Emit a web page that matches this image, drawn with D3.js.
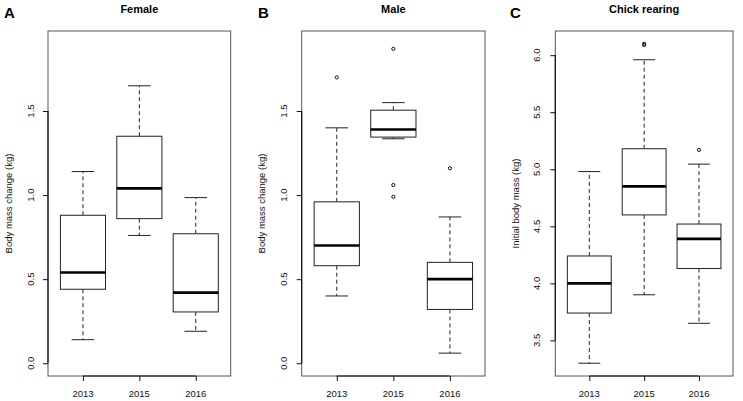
<!DOCTYPE html>
<html lang="en">
<head>
<meta charset="UTF-8">
<title>Body mass boxplots</title>
<script src="https://d3js.org/d3.v7.min.js"></script>
<style>
    body { margin: 0; padding: 0; background: #fff; }
    svg { font-family: "Liberation Sans", Arial, Helvetica, sans-serif; display: block; }
    .tick-label { font-size: 9.5px; fill: #111; }
    .axis-title { font-size: 9.5px; fill: #111; }
    .panel-title { font-size: 11px; font-weight: bold; text-anchor: middle; }
    .panel-letter { font-size: 15px; font-weight: bold; }
</style>
</head>
<body>
<div id="chart"></div>
<script>
    // categories
    var years = ["2013", "2015", "2016"];

    // five-number summaries per year: [low whisker, Q1, median, Q3, high whisker]
    var femaleStats = [
        [0.14, 0.44, 0.54, 0.88, 1.14],
        [0.76, 0.86, 1.04, 1.35, 1.65],
        [0.19, 0.305, 0.42, 0.77, 0.985]
    ];
    var femaleOutliers = [[], [], []];

    var maleStats = [
        [0.40, 0.58, 0.70, 0.96, 1.40],
        [1.335, 1.345, 1.39, 1.505, 1.55],
        [0.06, 0.32, 0.50, 0.60, 0.87]
    ];
    var maleOutliers = [[1.70], [1.87, 1.06, 0.99], [1.16]];

    var chickStats = [
        [3.30, 3.74, 4.00, 4.24, 4.98],
        [3.90, 4.60, 4.85, 5.18, 5.96],
        [3.65, 4.13, 4.39, 4.52, 5.045]
    ];
    var chickOutliers = [[], [6.09, 6.10], [5.17]];

    // tick labels
    var massTicks = [0, 0.5, 1.0, 1.5];
    var initialTicks = [3.5, 4.0, 4.5, 5.0, 5.5, 6.0];

    var width = 743, height = 401;

    var svg = d3.select("#chart")
        .append("svg")
        .attr("width", width)
        .attr("height", height);

    var panels = [
        { letter: "A", title: "Female", ylab: "Body mass change (kg)", stats: femaleStats, out: femaleOutliers,
          ticks: massTicks, lim: [0, 1.9], fmt: d3.format(".1f"), left: 48, right: 230.7, letterX: 4, tickOff: 18 },
        { letter: "B", title: "Male", ylab: "Body mass change (kg)", stats: maleStats, out: maleOutliers,
          ticks: massTicks, lim: [0, 1.9], fmt: d3.format(".1f"), left: 301.7, right: 485, letterX: 258, tickOff: 18 },
        { letter: "C", title: "Chick rearing", ylab: "Initial body mass (kg)", stats: chickStats, out: chickOutliers,
          ticks: initialTicks, lim: [3.3, 6.1], fmt: d3.format(".1f"), left: 555.3, right: 733, letterX: 510, tickOff: 19 }
    ];

    var plotTop = 31, plotBottom = 376;

    panels.forEach(function(p) {
        var g = svg.append("g");

        // R-style 4% axis extension
        var span = p.lim[1] - p.lim[0];
        var y = d3.scaleLinear()
            .domain([p.lim[0] - 0.04 * span, p.lim[1] + 0.04 * span])
            .range([plotBottom, plotTop]);
        var x = d3.scaleLinear()
            .domain([0.38, 3.62])
            .range([p.left, p.right]);

        var unit = x(2) - x(1);
        var boxW = 0.8 * unit, capW = 0.4 * unit;

        // frame
        g.append("rect")
            .attr("x", p.left).attr("y", plotTop)
            .attr("width", p.right - p.left).attr("height", plotBottom - plotTop)
            .attr("fill", "none").attr("stroke", "#555").attr("stroke-width", 1);

        // y axis (line from first to last tick)
        var yAxis = d3.axisLeft(y).tickValues(p.ticks).tickSize(5).tickFormat("");
        var ya = g.append("g").attr("transform", "translate(" + p.left + ",0)").call(yAxis);
        ya.select(".domain").remove();
        ya.selectAll(".tick line").attr("stroke", "#111");
        g.append("line")
            .attr("x1", p.left).attr("x2", p.left)
            .attr("y1", y(p.ticks[0])).attr("y2", y(p.ticks[p.ticks.length - 1]))
            .attr("stroke", "#111").attr("stroke-width", 1.2);
        p.ticks.forEach(function(t) {
            g.append("text")
                .attr("class", "tick-label")
                .attr("text-anchor", "middle")
                .attr("transform", "translate(" + (p.left - p.tickOff + 3.5) + "," + y(t) + ") rotate(-90)")
                .text(p.fmt(t));
        });

        // x axis
        var xAxis = d3.axisBottom(x).tickValues([1, 2, 3]).tickSize(5).tickFormat("");
        var xa = g.append("g").attr("transform", "translate(0," + plotBottom + ")").call(xAxis);
        xa.select(".domain").remove();
        xa.selectAll(".tick line").attr("stroke", "#111");
        g.append("line")
            .attr("x1", x(1)).attr("x2", x(3))
            .attr("y1", plotBottom).attr("y2", plotBottom)
            .attr("stroke", "#111").attr("stroke-width", 1.2);
        years.forEach(function(yr, i) {
            g.append("text")
                .attr("class", "tick-label")
                .attr("text-anchor", "middle")
                .attr("x", x(i + 1)).attr("y", 397)
                .text(yr);
        });

        // y axis title
        g.append("text")
            .attr("class", "axis-title")
            .attr("text-anchor", "middle")
            .attr("transform", "translate(" + (p.left - 36.5) + "," + ((plotTop + plotBottom) / 2) + ") rotate(-90)")
            .text(p.ylab);

        // panel title and letter
        g.append("text")
            .attr("class", "panel-title")
            .attr("x", (p.left + p.right) / 2).attr("y", 12.5)
            .text(p.title);
        g.append("text")
            .attr("class", "panel-letter")
            .attr("x", p.letterX).attr("y", 18)
            .text(p.letter);

        // boxes
        p.stats.forEach(function(s, i) {
            var cx = x(i + 1);
            // whiskers
            g.append("line")
                .attr("x1", cx).attr("x2", cx).attr("y1", y(s[3])).attr("y2", y(s[4]))
                .attr("stroke", "#222").attr("stroke-width", 1).attr("stroke-dasharray", "4,3");
            g.append("line")
                .attr("x1", cx).attr("x2", cx).attr("y1", y(s[1])).attr("y2", y(s[0]))
                .attr("stroke", "#222").attr("stroke-width", 1).attr("stroke-dasharray", "4,3");
            // caps
            [s[0], s[4]].forEach(function(v) {
                g.append("line")
                    .attr("x1", cx - capW / 2).attr("x2", cx + capW / 2)
                    .attr("y1", y(v)).attr("y2", y(v))
                    .attr("stroke", "#222").attr("stroke-width", 1);
            });
            // box
            g.append("rect")
                .attr("x", cx - boxW / 2).attr("y", y(s[3]))
                .attr("width", boxW).attr("height", y(s[1]) - y(s[3]))
                .attr("fill", "#fff").attr("stroke", "#222").attr("stroke-width", 1);
            // median
            g.append("line")
                .attr("x1", cx - boxW / 2).attr("x2", cx + boxW / 2)
                .attr("y1", y(s[2])).attr("y2", y(s[2]))
                .attr("stroke", "#000").attr("stroke-width", 2.6);
            // outliers
            p.out[i].forEach(function(v) {
                g.append("circle")
                    .attr("cx", cx).attr("cy", y(v)).attr("r", 1.6)
                    .attr("fill", "none").attr("stroke", "#111").attr("stroke-width", 1);
            });
        });
    });
</script>
</body>
</html>
